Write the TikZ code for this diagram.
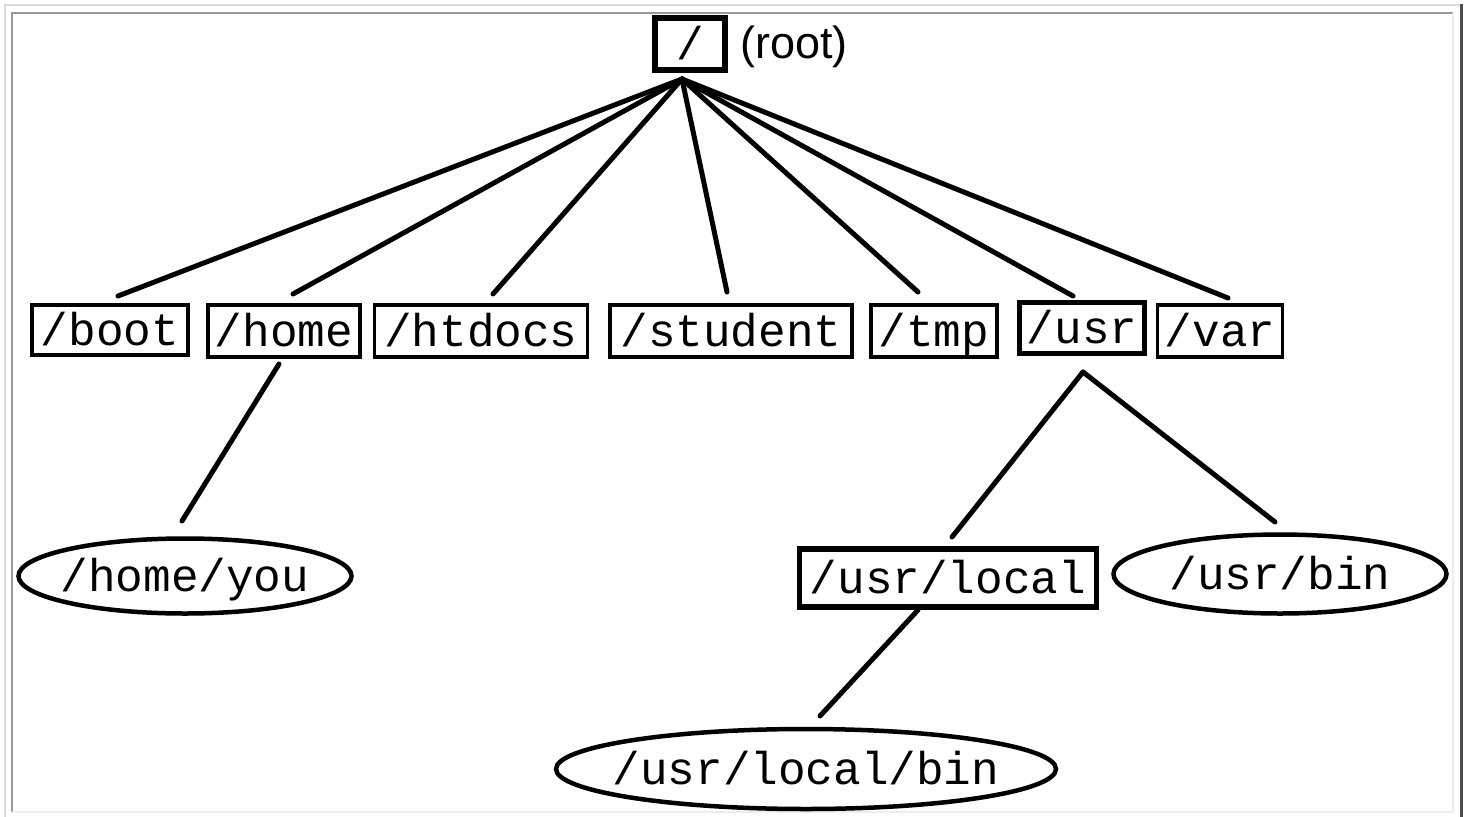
\documentclass[tikz,border=0pt]{standalone}
\usepackage{fontspec}
\setmainfont{Liberation Sans}
\newfontfamily\dirfont{Liberation Mono}
\usetikzlibrary{shapes.geometric}
\tikzset{
  dirtext/.style={font=\dirfont\fontsize{46}{50}\selectfont, inner sep=0pt, text height=36pt, text depth=6pt},
  dirbox/.style={draw, rectangle, inner sep=0pt, line width=3.5pt, dirtext},
  heavybox/.style={dirbox, line width=5.5pt},
  direll/.style={draw, ellipse, inner sep=0pt, line width=4.5pt, label={[dirtext]center:#1}},
  link/.style={line width=5pt, line cap=round}
}
\begin{document}
\begin{tikzpicture}[x=1pt,y=-1pt]
\useasboundingbox (0,0) rectangle (1468,817);
% frame
\draw[line width=2pt, black!14] (5,817) -- (5,5) -- (1461,5);
\draw[line width=3pt, black!70] (1461,4) -- (1461,817);
\draw[line width=2.5pt, black!40] (12,812) -- (12,13) -- (1453,13);
\draw[line width=2pt, black!7] (12,812) -- (1453,812) -- (1453,13);

% nodes
\node[heavybox, minimum width=70, minimum height=52] (root) at (690,44) {/};
\node[anchor=west, inner sep=0pt, font=\fontsize{45}{48}\selectfont] (rootlbl) at (740,47) {(root)};
\node[dirbox, minimum width=156, minimum height=50] (boot) at (110,330) {/boot};
\node[dirbox, minimum width=152, minimum height=52] (home) at (284,331) {/home};
\node[dirbox, minimum width=213, minimum height=52] (htdocs) at (481,331) {/htdocs};
\node[dirbox, minimum width=242, minimum height=52] (student) at (731,331) {/student};
\node[dirbox, minimum width=126, minimum height=52] (tmp) at (934,331) {/tmp};
\node[heavybox, minimum width=125, minimum height=51] (usr) at (1082,328) {/usr};
\node[dirbox, minimum width=125, minimum height=52] (var) at (1220,331) {/var};
\node[direll={/home/you}, minimum width=333, minimum height=75] (homeyou) at (185,576) {};
\node[heavybox, minimum width=297, minimum height=58] (usrlocal) at (948,578) {/usr/local};
\node[direll={/usr/bin}, minimum width=333, minimum height=79] (usrbin) at (1280,574) {};
\node[direll={/usr/local/bin}, minimum width=500, minimum height=80] (usrlocalbin) at (806,769) {};

% connector ends
\coordinate (hub) at (682,79);
\coordinate (bootin) at (118,296);
\coordinate (homein) at (293,294);
\coordinate (htdocsin) at (493,294);
\coordinate (studentin) at (727,292);
\coordinate (tmpin) at (918,292);
\coordinate (usrin) at (1073,296);
\coordinate (varin) at (1228,298);
\coordinate (homeout) at (279,364);
\coordinate (homeyouin) at (182,521);
\coordinate (usrout) at (1083,372);
\coordinate (usrlocalin) at (952,537);
\coordinate (usrbinin) at (1275,522);
\coordinate (usrlocalout) at (918,610);
\coordinate (usrlocalbinin) at (820,716);

\draw[link] (hub) -- (bootin);
\draw[link] (hub) -- (homein);
\draw[link] (hub) -- (htdocsin);
\draw[link] (hub) -- (studentin);
\draw[link] (hub) -- (tmpin);
\draw[link] (hub) -- (usrin);
\draw[link] (hub) -- (varin);
\draw[link] (homeout) -- (homeyouin);
\draw[link] (usrout) -- (usrlocalin);
\draw[link] (usrout) -- (usrbinin);
\draw[link] (usrlocalout) -- (usrlocalbinin);
\end{tikzpicture}
\end{document}
